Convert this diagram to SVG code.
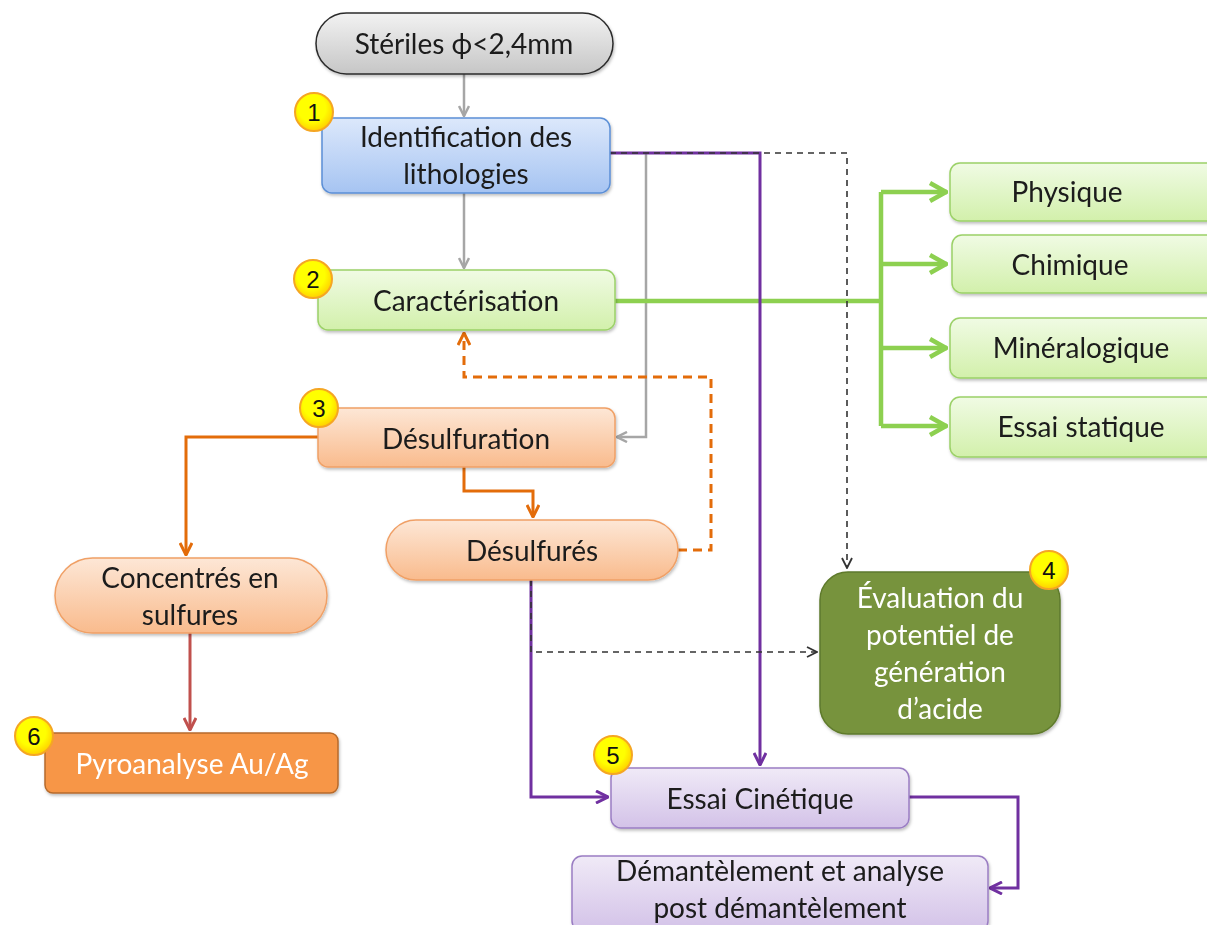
<svg xmlns="http://www.w3.org/2000/svg" width="1207" height="925" viewBox="0 0 1207 925">
  <style>
    .t { font-family: Lato, "Open Sans", "Liberation Sans", sans-serif; font-size: 28px; fill: #1a1a1a; text-anchor: middle; }
    .tw { fill: #ffffff; }
    .badge circle { fill: url(#gYellow); stroke: #f5a623; stroke-width: 2; }
    .badge text { font-family: "Liberation Sans", Arial, sans-serif; font-size: 24px; fill: #111; text-anchor: middle; }
    .node { filter: url(#shadow); }
    .gray { fill: none; stroke: #a6a6a6; stroke-width: 2.5; }
    .purple { fill: none; stroke: #7030a0; stroke-width: 3; }
    .green { fill: none; stroke: #8dd050; stroke-width: 4.5; }
    .orange { fill: none; stroke: #e36c0a; stroke-width: 3; }
    .odash { fill: none; stroke: #e36c0a; stroke-width: 3; stroke-dasharray: 9 6; }
    .bdash { fill: none; stroke: #333; stroke-width: 1.6; stroke-dasharray: 6 5; }
    .red { fill: none; stroke: #c0504d; stroke-width: 3; }
  </style>
  <defs>
    <filter id="shadow" x="-10%" y="-10%" width="120%" height="130%">
      <feDropShadow dx="1" dy="2" stdDeviation="1.5" flood-color="#000" flood-opacity="0.25"/>
    </filter>
    <linearGradient id="gGray" x1="0" y1="0" x2="0" y2="1">
      <stop offset="0" stop-color="#f2f2f2"/><stop offset="1" stop-color="#c6c6c6"/>
    </linearGradient>
    <linearGradient id="gBlue" x1="0" y1="0" x2="0" y2="1">
      <stop offset="0" stop-color="#dce8fb"/><stop offset="1" stop-color="#a6c4f2"/>
    </linearGradient>
    <linearGradient id="gGreen" x1="0" y1="0" x2="0" y2="1">
      <stop offset="0" stop-color="#f0fbe4"/><stop offset="1" stop-color="#d2f0ab"/>
    </linearGradient>
    <linearGradient id="gOrange" x1="0" y1="0" x2="0" y2="1">
      <stop offset="0" stop-color="#fde7d6"/><stop offset="1" stop-color="#f9bb8d"/>
    </linearGradient>
    <linearGradient id="gPurple" x1="0" y1="0" x2="0" y2="1">
      <stop offset="0" stop-color="#f0eaf7"/><stop offset="1" stop-color="#d3c2e8"/>
    </linearGradient>
    <radialGradient id="gYellow" cx="0.45" cy="0.4" r="0.6">
      <stop offset="0.6" stop-color="#ffff00"/><stop offset="1" stop-color="#ffd000"/>
    </radialGradient>
    <marker id="aGray" viewBox="0 0 12 12" refX="11" refY="6" markerWidth="12" markerHeight="12" markerUnits="userSpaceOnUse" orient="auto">
      <path d="M1 1 L11 6 L1 11" fill="none" stroke="#a6a6a6" stroke-width="2.5"/>
    </marker>
    <marker id="aPurple" viewBox="0 0 14 14" refX="13" refY="7" markerWidth="14" markerHeight="14" markerUnits="userSpaceOnUse" orient="auto">
      <path d="M1 1 L13 7 L1 13" fill="none" stroke="#7030a0" stroke-width="3"/>
    </marker>
    <marker id="aGreen" viewBox="0 0 20 22" refX="19" refY="11" markerWidth="20" markerHeight="22" markerUnits="userSpaceOnUse" orient="auto">
      <path d="M2 2 L18 11 L2 20" fill="none" stroke="#8dd050" stroke-width="4.5"/>
    </marker>
    <marker id="aOrange" viewBox="0 0 14 14" refX="13" refY="7" markerWidth="14" markerHeight="14" markerUnits="userSpaceOnUse" orient="auto">
      <path d="M1 1 L13 7 L1 13" fill="none" stroke="#e36c0a" stroke-width="3"/>
    </marker>
    <marker id="aBlack" viewBox="0 0 12 12" refX="11" refY="6" markerWidth="12" markerHeight="12" markerUnits="userSpaceOnUse" orient="auto">
      <path d="M1 1 L11 6 L1 11" fill="none" stroke="#333" stroke-width="1.8"/>
    </marker>
    <marker id="aRed" viewBox="0 0 14 14" refX="13" refY="7" markerWidth="14" markerHeight="14" markerUnits="userSpaceOnUse" orient="auto">
      <path d="M1 1 L13 7 L1 13" fill="none" stroke="#c0504d" stroke-width="3"/>
    </marker>
  </defs>

  <rect width="1207" height="925" fill="#ffffff"/>

  <!-- connectors -->
  <g id="connectors">
    <path class="gray" d="M464 74 V116" marker-end="url(#aGray)"/>
    <path class="gray" d="M464 193 V268" marker-end="url(#aGray)"/>
    <path class="gray" d="M646 153 V437 H617" marker-end="url(#aGray)"/>

    <path class="green" d="M615 301 H881"/>
    <path class="green" d="M881 192 V426"/>
    <path class="green" d="M881 192 H947" marker-end="url(#aGreen)"/>
    <path class="green" d="M881 264 H947" marker-end="url(#aGreen)"/>
    <path class="green" d="M881 348 H947" marker-end="url(#aGreen)"/>
    <path class="green" d="M881 426 H947" marker-end="url(#aGreen)"/>

    <path class="purple" d="M610 153 H760 V765" marker-end="url(#aPurple)"/>
    <path class="purple" d="M531 580 V797 H608" marker-end="url(#aPurple)"/>
    <path class="purple" d="M909 797 H1018 V888 H990" marker-end="url(#aPurple)"/>
    <path class="bdash" d="M610 153 H847 V568" marker-end="url(#aBlack)"/>
    <path class="bdash" d="M531 580 V652 H817" marker-end="url(#aBlack)"/>

    <path class="odash" d="M678 550 H711 V377 H464 V333" marker-end="url(#aOrange)"/>
    <path class="orange" d="M318 437 H186 V555" marker-end="url(#aOrange)"/>
    <path class="orange" d="M464 467 V491 H533 V517" marker-end="url(#aOrange)"/>
    <path class="red" d="M190 633 V730" marker-end="url(#aRed)"/>
  </g>

  <!-- nodes -->
  <g id="steriles" class="node">
    <rect x="316" y="13" width="297" height="61" rx="30.5" fill="url(#gGray)" stroke="#2b2b2b" stroke-width="1.5"/>
    <text class="t" x="464" y="54">Stériles ϕ&lt;2,4mm</text>
  </g>

  <g id="identification" class="node">
    <rect x="322" y="118" width="288" height="75" rx="10" fill="url(#gBlue)" stroke="#5b8fd6" stroke-width="1.5"/>
    <text class="t" x="466" y="147">Identification des</text>
    <text class="t" x="466" y="184">lithologies</text>
  </g>

  <g id="caracterisation" class="node">
    <rect x="318" y="270" width="297" height="60" rx="10" fill="url(#gGreen)" stroke="#9bd167" stroke-width="1.5"/>
    <text class="t" x="466" y="311">Caractérisation</text>
  </g>

  <g id="physique" class="node">
    <rect x="950" y="163" width="270" height="58" rx="10" fill="url(#gGreen)" stroke="#9bd167" stroke-width="1.5"/>
    <text class="t" x="1067" y="202">Physique</text>
  </g>
  <g id="chimique" class="node">
    <rect x="952" y="235" width="270" height="58" rx="10" fill="url(#gGreen)" stroke="#9bd167" stroke-width="1.5"/>
    <text class="t" x="1070" y="275">Chimique</text>
  </g>
  <g id="mineralogique" class="node">
    <rect x="950" y="318" width="270" height="60" rx="10" fill="url(#gGreen)" stroke="#9bd167" stroke-width="1.5"/>
    <text class="t" x="1081" y="358">Minéralogique</text>
  </g>
  <g id="essai-statique" class="node">
    <rect x="950" y="397" width="270" height="60" rx="10" fill="url(#gGreen)" stroke="#9bd167" stroke-width="1.5"/>
    <text class="t" x="1081" y="437">Essai statique</text>
  </g>

  <g id="desulfuration" class="node">
    <rect x="318" y="408" width="297" height="59" rx="10" fill="url(#gOrange)" stroke="#f0a066" stroke-width="1.5"/>
    <text class="t" x="466" y="449">Désulfuration</text>
  </g>

  <g id="desulfures" class="node">
    <rect x="386" y="520" width="292" height="60" rx="30" fill="url(#gOrange)" stroke="#f0a066" stroke-width="1.5"/>
    <text class="t" x="532" y="561">Désulfurés</text>
  </g>

  <g id="concentres" class="node">
    <rect x="55" y="558" width="272" height="75" rx="37.5" fill="url(#gOrange)" stroke="#f0a066" stroke-width="1.5"/>
    <text class="t" x="190" y="588">Concentrés en</text>
    <text class="t" x="190" y="625">sulfures</text>
  </g>

  <g id="pyroanalyse" class="node">
    <rect x="45" y="733" width="293" height="60" rx="8" fill="#f79646" stroke="#b66a2c" stroke-width="1.5"/>
    <text class="t tw" x="192" y="774">Pyroanalyse Au/Ag</text>
  </g>

  <g id="evaluation" class="node">
    <rect x="820" y="572" width="240" height="162" rx="28" fill="#77933c" stroke="#5e7a2c" stroke-width="1.5"/>
    <text class="t tw" x="940" y="608">Évaluation du</text>
    <text class="t tw" x="940" y="645">potentiel de</text>
    <text class="t tw" x="940" y="682">génération</text>
    <text class="t tw" x="940" y="719">d’acide</text>
  </g>

  <g id="essai-cinetique" class="node">
    <rect x="611" y="768" width="298" height="60" rx="10" fill="url(#gPurple)" stroke="#9a7dc3" stroke-width="1.5"/>
    <text class="t" x="760" y="809">Essai Cinétique</text>
  </g>

  <g id="demantelement" class="node">
    <rect x="572" y="856" width="416" height="75" rx="10" fill="url(#gPurple)" stroke="#9a7dc3" stroke-width="1.5"/>
    <text class="t" x="780" y="881">Démantèlement et analyse</text>
    <text class="t" x="780" y="918">post démantèlement</text>
  </g>

  <!-- step badges -->
  <g id="badge-1" class="badge"><circle cx="314" cy="112" r="19"/><text x="314" y="121">1</text></g>
  <g id="badge-2" class="badge"><circle cx="313" cy="279" r="19"/><text x="313" y="288">2</text></g>
  <g id="badge-3" class="badge"><circle cx="319" cy="408" r="19"/><text x="319" y="417">3</text></g>
  <g id="badge-4" class="badge"><circle cx="1049" cy="570" r="19"/><text x="1049" y="579">4</text></g>
  <g id="badge-5" class="badge"><circle cx="613" cy="755" r="19"/><text x="613" y="764">5</text></g>
  <g id="badge-6" class="badge"><circle cx="34" cy="736" r="19"/><text x="34" y="745">6</text></g>
</svg>
